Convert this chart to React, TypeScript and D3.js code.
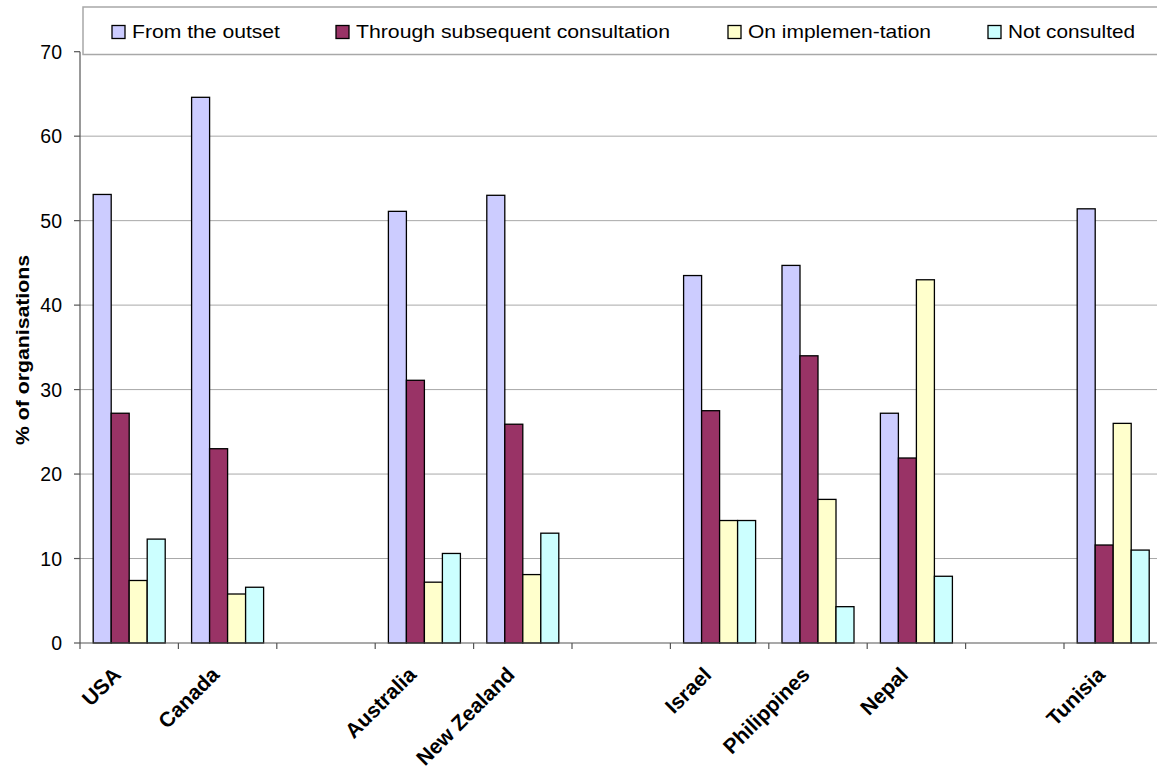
import React from "react";
import * as d3 from "d3";

const categories = ["USA", "Canada", "", "Australia", "New Zealand", "", "Israel", "Philippines", "Nepal", "", "Tunisia"];
const seriesNames = ["From the outset", "Through subsequent consultation", "On implemen-tation", "Not consulted"];
const seriesColors = ["#CCCCFF", "#993366", "#FFFFCC", "#CCFFFF"];
const fromOutset = [53.1, 64.6, null, 51.1, 53.0, null, 43.5, 44.7, 27.2, null, 51.4];
const subsequent = [27.2, 23.0, null, 31.1, 25.9, null, 27.5, 34.0, 21.9, null, 11.6];
const onImplementation = [7.4, 5.8, null, 7.2, 8.1, null, 14.5, 17.0, 43.0, null, 26.0];
const notConsulted = [12.3, 6.6, null, 10.6, 13.0, null, 14.5, 4.3, 7.9, null, 11.0];
const yTicks = [0, 10, 20, 30, 40, 50, 60, 70];

const legendX = [112, 336, 728, 988];
const legendTextLen = [148, 314, 183, 127];

export default function App() {
  const W = 1157, H = 769;
  const left = 80, top = 51.7, bottom = 643;
  const step = 98.4;
  const series = [fromOutset, subsequent, onImplementation, notConsulted];
  const idx = categories.map((_, i) => String(i));
  const x0 = d3.scaleBand<string>().domain(idx).range([left, left + step * categories.length]).padding(0);
  const x1 = d3.scaleBand<string>().domain(seriesNames).range([0, x0.bandwidth()]).paddingInner(0).paddingOuter(0.733);
  const y = d3.scaleLinear().domain([0, 70]).range([bottom, top]);
  const font = "Arial, 'Liberation Sans', sans-serif";

  return (
    <div style={{ position: "absolute", left: 0, top: 0 }}>
      <svg width={W} height={H} style={{ display: "block" }} fontFamily={font}>
        <rect x={0} y={0} width={W} height={H} fill="#fff" />
        {/* gridlines */}
        {yTicks.filter(t => t > 0 && t < 70).map(t => (
          <line key={t} x1={left} x2={W} y1={y(t)} y2={y(t)} stroke="#a8a8a8" strokeWidth={1} />
        ))}
        {/* bars */}
        {series.map((vals, s) =>
          vals.map((v, i) =>
            v == null ? null : (
              <rect
                key={s + "-" + i}
                x={(x0(String(i)) as number) + (x1(seriesNames[s]) as number)}
                y={y(v)}
                width={x1.bandwidth()}
                height={y(0) - y(v)}
                fill={seriesColors[s]}
                stroke="#000"
                strokeWidth={1.3}
              />
            )
          )
        )}
        {/* axes */}
        <line x1={left} x2={left} y1={top} y2={bottom} stroke="#555" strokeWidth={1.2} />
        <line x1={left} x2={W} y1={bottom} y2={bottom} stroke="#555" strokeWidth={1.2} />
        {yTicks.map(t => (
          <g key={"yt" + t}>
            <line x1={left - 6} x2={left} y1={y(t)} y2={y(t)} stroke="#555" strokeWidth={1.2} />
            <text x={62} y={y(t)} dy="0.36em" textAnchor="end" fontSize={19.5} fill="#000">{t}</text>
          </g>
        ))}
        {idx.map(k => (
          <line key={"xt" + k} x1={x0(k) as number} x2={x0(k) as number} y1={bottom} y2={bottom + 6} stroke="#555" strokeWidth={1.2} />
        ))}
        {categories.map((c, i) => {
          if (!c) return null;
          const cx = (x0(String(i)) as number) + x0.bandwidth() / 2 - 7;
          const cy = 676;
          return (
            <text key={"xl" + i} x={cx} y={cy} textAnchor="end" fontSize={21} fontWeight="bold" transform={`rotate(-45 ${cx} ${cy})`}>{c}</text>
          );
        })}
        {/* y title */}
        <text x={0} y={0} transform="translate(29 350) rotate(-90)" textAnchor="middle" fontSize={18} fontWeight="bold" textLength={190} lengthAdjust="spacingAndGlyphs">% of organisations</text>
        {/* legend */}
        <rect x={83} y={7} width={1090} height={47.5} fill="#fff" stroke="#a8a8a8" strokeWidth={1.5} />
        {seriesNames.map((n, s) => (
          <g key={"lg" + s}>
            <rect x={legendX[s]} y={25.5} width={13} height={13} fill={seriesColors[s]} stroke="#000" strokeWidth={1.3} />
            <text x={legendX[s] + 20} y={38.3} fontSize={18.5} textLength={legendTextLen[s]} lengthAdjust="spacingAndGlyphs">{n}</text>
          </g>
        ))}
      </svg>
    </div>
  );
}
